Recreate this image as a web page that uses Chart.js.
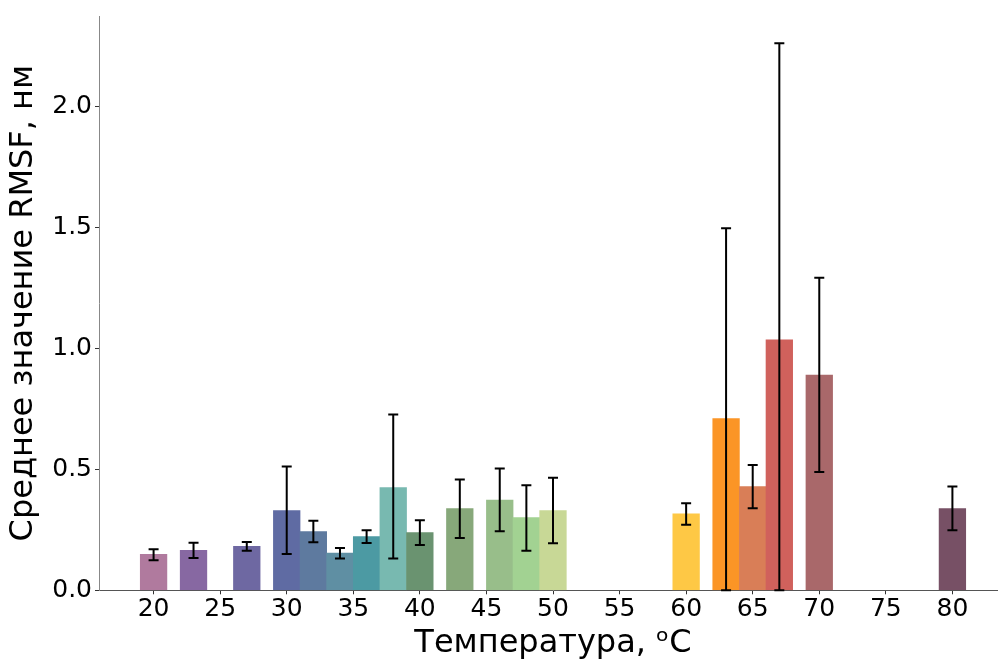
<!DOCTYPE html>
<html>
<head>
<meta charset="utf-8">
<script src="https://cdn.jsdelivr.net/npm/chart.js@4.4.1/dist/chart.umd.min.js"></script>
<style>
  html, body { margin: 0; padding: 0; background: #fff; overflow: hidden; }
  #wrap { width: 1007px; height: 661px; }
</style>
</head>
<body>
<div id="wrap"><canvas id="c" width="1007" height="661"></canvas></div>
<script>
// Temperatures (°C)
const temperatures = [20, 23, 27, 30, 32, 34, 36, 38, 40, 43, 46, 48, 50, 60, 63, 65, 67, 70, 80];
// Mean RMSF, nm
const meanRmsf = [0.149, 0.165, 0.182, 0.330, 0.243, 0.154, 0.222, 0.425, 0.239, 0.338, 0.373, 0.301, 0.330, 0.316, 0.710, 0.429, 1.035, 0.890, 0.338];
// Error bar ends (lower / upper), nm
const errLow  = [0.124, 0.134, 0.163, 0.150, 0.199, 0.131, 0.196, 0.131, 0.187, 0.216, 0.244, 0.164, 0.194, 0.271, 0.000, 0.339, 0.000, 0.489, 0.248];
const errHigh = [0.170, 0.197, 0.200, 0.512, 0.288, 0.175, 0.248, 0.727, 0.290, 0.458, 0.504, 0.434, 0.465, 0.360, 1.497, 0.518, 2.261, 1.292, 0.429];
// Bar colours
const barColors = ['#b07a9e', '#8768a2', '#6e68a2', '#5f6ba3', '#5e7a9f', '#5f8fa3', '#4c9aa3', '#78b9b0', '#6a9370',
                   '#87a87a', '#98be8a', '#a2d292', '#c8d896', '#fec845', '#fb9526', '#d97e57', '#d0615c', '#a9686a', '#775065'];
// Tick values
const xTicks = [20, 25, 30, 35, 40, 45, 50, 55, 60, 65, 70, 75, 80];
const yTicks = [0, 0.5, 1.0, 1.5, 2.0];

const FONT = "'DejaVu Sans', sans-serif";

const errorBars = {
  id: 'errorBars',
  afterDatasetsDraw(chart) {
    const ctx = chart.ctx, xs = chart.scales.x, ys = chart.scales.y;
    ctx.save();
    ctx.strokeStyle = '#000';
    ctx.lineWidth = 2;
    ctx.lineCap = 'butt';
    temperatures.forEach((t, i) => {
      const x = xs.getPixelForValue(t);
      const y0 = ys.getPixelForValue(errLow[i]);
      const y1 = ys.getPixelForValue(errHigh[i]);
      ctx.beginPath();
      ctx.moveTo(x, y0); ctx.lineTo(x, y1);
      ctx.moveTo(x - 5, y0); ctx.lineTo(x + 5, y0);
      ctx.moveTo(x - 5, y1); ctx.lineTo(x + 5, y1);
      ctx.stroke();
    });
    ctx.restore();
  }
};

new Chart(document.getElementById('c'), {
  type: 'bar',
  data: {
    datasets: [{
      data: temperatures.map((t, i) => ({ x: t, y: meanRmsf[i] })),
      backgroundColor: barColors,
      borderWidth: 0,
      categoryPercentage: 1.0,
      barPercentage: 1.0
    }]
  },
  options: {
    responsive: false,
    animation: false,
    events: [],
    layout: { padding: { top: 16, left: 0, right: 0, bottom: 0 } },
    plugins: { legend: { display: false }, tooltip: { enabled: false } },
    scales: {
      x: {
        type: 'linear',
        min: 15.9,
        max: 84.1,
        offset: false,
        afterBuildTicks: s => { s.ticks = xTicks.map(v => ({ value: v })); },
        afterFit: s => { s.height = 70.7; },
        ticks: {
          font: { family: FONT, size: 25, lineHeight: 1 },
          color: '#000',
          padding: 3,
          maxRotation: 0,
          autoSkip: false,
          callback: v => String(v)
        },
        grid: { display: true, drawOnChartArea: false, drawTicks: true, tickLength: 4, tickColor: '#333', offset: false },
        border: { display: true, color: '#555', width: 1 },
        title: {
          display: true,
          text: 'Температура, ᵒC',
          font: { family: FONT, size: 32, lineHeight: 1 },
          color: '#000',
          padding: { top: 0, bottom: 1 }
        }
      },
      y: {
        type: 'linear',
        min: 0,
        max: 2.374,
        afterBuildTicks: s => { s.ticks = yTicks.map(v => ({ value: v })); },
        afterFit: s => { s.width = 99; },
        ticks: {
          font: { family: FONT, size: 25, lineHeight: 1 },
          color: '#000',
          padding: 3,
          callback: v => v.toFixed(1)
        },
        grid: { display: true, drawOnChartArea: false, drawTicks: true, tickLength: 4, tickColor: '#333' },
        border: { display: true, color: '#888', width: 1 },
        title: {
          display: true,
          text: 'Среднее значение RMSF, нм',
          font: { family: FONT, size: 32, lineHeight: 1 },
          color: '#000',
          padding: { top: 8, bottom: 0 }
        }
      }
    }
  },
  plugins: [errorBars]
});
</script>
</body>
</html>
